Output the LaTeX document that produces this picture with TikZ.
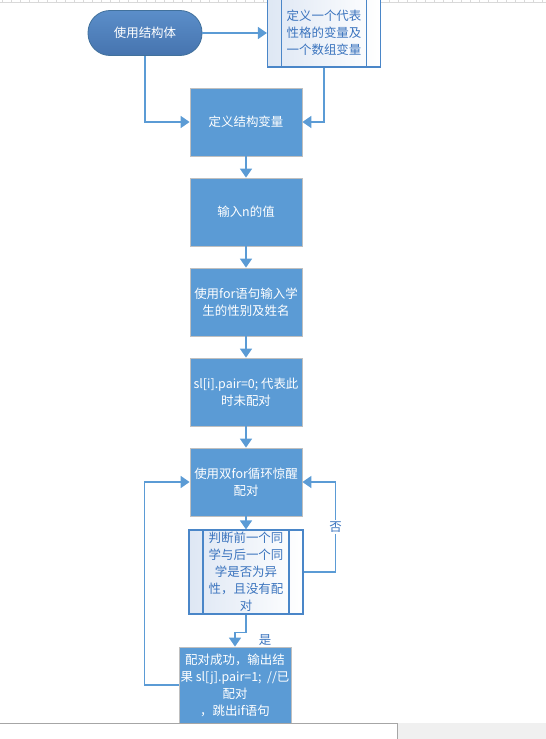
\documentclass[tikz,border=0pt]{standalone}
\usepackage{fontspec}
\setmainfont{Noto Sans CJK SC}
\usetikzlibrary{arrows.meta}

\definecolor{boxblue}{HTML}{5B9BD5}
\definecolor{boxedge}{HTML}{BFBFBF}
\definecolor{lineblue}{HTML}{5B9BD5}
\definecolor{termtop}{HTML}{5B8EC9}
\definecolor{termbot}{HTML}{4674AF}
\definecolor{termedge}{HTML}{41719C}
\definecolor{subedge}{HTML}{4A86C8}
\definecolor{subtext}{HTML}{3B74BE}
\definecolor{sublight}{HTML}{DEE7F4}

\tikzset{
  txt/.style={font=\fontsize{12.5}{17}\selectfont, align=center, inner sep=0pt},
  procbox/.style={txt, draw=boxedge, line width=0.8bp, fill=boxblue, text=white,
    minimum width=112bp, minimum height=68bp},
  termbox/.style={txt, draw=termedge, line width=0.8bp, top color=termtop, bottom color=termbot,
    text=white, rounded corners=22bp, minimum width=114bp, minimum height=45bp},
  subbox/.style={txt, draw=subedge, line width=1.2bp, left color=sublight, right color=white,
    text=subtext, minimum width=113bp, minimum height=68bp,
    path picture={
      \draw[subedge, line width=1.2bp]
        ([xshift=14bp]path picture bounding box.north west) -- ([xshift=14bp]path picture bounding box.south west)
        ([xshift=-14bp]path picture bounding box.north east) -- ([xshift=-14bp]path picture bounding box.south east);
    }},
  flow/.style={->, draw=lineblue, line width=1.6bp},
  lbl/.style={txt, text=subtext}
}

\begin{document}
\begin{tikzpicture}[x=1bp, y=-1bp, >={Triangle[length=9bp,width=12bp]}, node distance=90bp]
    \useasboundingbox (0,0) rectangle (546,739);

    % ruler along the top
    \draw[black!15, line width=0.6bp] (0,2.3) -- (546,2.3);
    \foreach \t in {0,...,60} {
        \draw[black!15, line width=0.6bp] (2.7+9*\t,0) -- (2.7+9*\t,2.3);
    }

    \node[termbox] (start) at (145,33) {使用结构体};
    \node[subbox, right of=start, node distance=179bp] (vars) {定义一个代表\\性格的变量及\\一个数组变量};

    \node[procbox] (def) at (246,122) {定义结构变量};
    \node[procbox, below of=def] (inp) {输入n的值};
    \node[procbox, below of=inp] (read) {使用for语句输入学\\生的性别及姓名};
    \node[procbox, below of=read] (init) {sl[i].pair=0; 代表此\\时未配对};
    \node[procbox, below of=init] (pair) {使用双for循环惊醒\\配对};
    \node[subbox, below of=pair, minimum width=114bp, minimum height=84bp] (judge)
        {判断前一个同\\学与后一个同\\学是否为异\\性，且没有配\\对};
    \node[procbox, below of=judge, node distance=113bp, xshift=-11bp, minimum height=76bp] (out)
        {配对成功，输出结\\果 sl[j].pair=1;\ \ //已\\配对\\，跳出if语句};

    \draw[flow] (start) -- (start -| vars.west);
    \draw[flow] (start) |- (def);
    \draw[flow] (vars) |- (def);
    \draw[flow] (def) -- (inp);
    \draw[flow] (inp) -- (read);
    \draw[flow] (read) -- (init);
    \draw[flow] (init) -- (pair);
    \draw[flow] (pair) -- (judge);
    \draw[flow] (judge.east) -- ++(32,0) coordinate (noturn)
        -- node[lbl, fill=white, inner sep=2bp] {否} (noturn |- pair.east) -- (pair.east);
    \draw[flow] (judge.south) -- ++(0,18) -| node[lbl, pos=0.75, anchor=west, xshift=23bp] {是} (out.north);
    \draw[flow] (out.west) -- ++(-34,0) |- (pair.west);

    % window edge at the bottom
    \fill[black!6] (397,723.3) rectangle (546,739);
    \fill[white] (0,723.3) rectangle (397,739);
    \draw[black!35, line width=1bp] (0,723.3) -- (397,723.3) -- (397,739);
\end{tikzpicture}
\end{document}
